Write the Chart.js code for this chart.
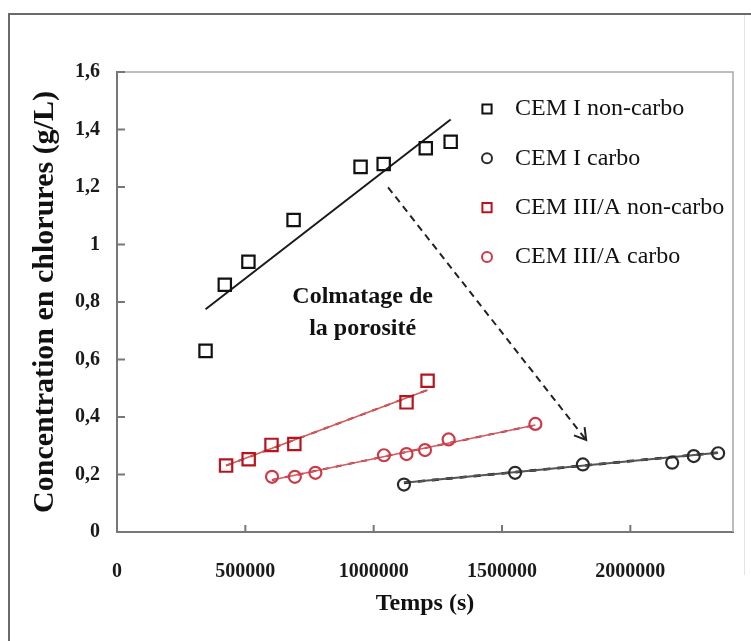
<!DOCTYPE html>
<html>
<head>
<meta charset="utf-8">
<script src="https://cdn.jsdelivr.net/npm/chart.js@4"></script>
<style>
    body { margin: 0; background: #fff; }
    .wrap { position: relative; width: 751px; height: 641px; overflow: hidden; }
    .frame { position: absolute; left: 8px; top: 13px; width: 780px; height: 700px;
             border-top: 2px solid #6a6a6a; border-left: 2px solid #6a6a6a; }
    .frame-r { position: absolute; left: 744px; top: 15px; height: 560px; border-left: 1px solid #e4e4e4; }
    canvas { position: absolute; left: 0; top: 0; }
</style>
</head>
<body>
<div class="wrap">
    <div class="frame"></div>
    <div class="frame-r"></div>
    <canvas id="chlorChart" width="751" height="641"></canvas>
</div>
<script>
// measured points (time in s, concentration in g/L)
const cemINcTime = [345000, 420000, 512000, 688000, 949000, 1039000, 1203000, 1300000];
const cemINcConc = [0.63, 0.86, 0.94, 1.085, 1.27, 1.28, 1.335, 1.357];
const cemICTime = [1118000, 1551000, 1815000, 2163000, 2247000, 2342000];
const cemICConc = [0.165, 0.206, 0.235, 0.241, 0.264, 0.274];
const cemIIINcTime = [425000, 513000, 602000, 691000, 1128000, 1210000];
const cemIIINcConc = [0.231, 0.253, 0.303, 0.306, 0.451, 0.526];
const cemIIICTime = [604000, 693000, 773000, 1040000, 1128000, 1200000, 1292000, 1630000];
const cemIIICConc = [0.192, 0.192, 0.206, 0.267, 0.271, 0.285, 0.322, 0.376];

// trend lines (start / end)
const cemINcTrendTime = [345000, 1300000];
const cemINcTrendConc = [0.775, 1.435];
const cemICTrendTime = [1118000, 2342000];
const cemICTrendConc = [0.171, 0.276];
const cemIIINcTrendTime = [425000, 1210000];
const cemIIINcTrendConc = [0.231, 0.494];
const cemIIICTrendTime = [604000, 1630000];
const cemIIICTrendConc = [0.181, 0.372];

// dashed arrow "colmatage"
const arrowTime = [1056000, 1828000];
const arrowConc = [1.199, 0.32];

const xTickValues = [0, 500000, 1000000, 1500000, 2000000];
const yTickValues = [0, 0.2, 0.4, 0.6, 0.8, 1, 1.2, 1.4, 1.6];

const noteLines = ['Colmatage de', 'la porosité'];
const noteTime = 957000;
const noteConc = [0.817, 0.708];

const serif = '"Liberation Serif", "DejaVu Serif", serif';

function pts(xs, ys) {
    return xs.map((x, i) => ({ x: x, y: ys[i] }));
}

function markers(label, xs, ys, color, style, radius) {
    return {
        label: label,
        data: pts(xs, ys),
        pointStyle: style,
        radius: radius,
        borderColor: color,
        backgroundColor: 'rgba(0,0,0,0)',
        borderWidth: 2.2,
        showLine: false,
        order: 0
    };
}

function trend(xs, ys, color, width, dash) {
    return {
        data: pts(xs, ys),
        showLine: true,
        borderColor: color,
        borderWidth: width,
        borderDash: dash || [],
        pointRadius: 0,
        order: 1
    };
}

const legendIndex = [0, 1, 2, 3];
const arrowIndex = 11;

const extras = {
    id: 'extras',
    beforeDatasetsDraw(chart) {
        const { ctx, chartArea: a, scales: { x, y } } = chart;
        ctx.save();
        ctx.strokeStyle = '#a8a8a8';
        ctx.lineWidth = 1.5;
        ctx.beginPath();
        ctx.moveTo(a.left, a.top);
        ctx.lineTo(a.right, a.top);
        ctx.lineTo(a.right, a.bottom);
        ctx.stroke();

        // inside tick marks
        ctx.strokeStyle = '#777';
        ctx.lineWidth = 2;
        x.ticks.forEach(t => {
            if (t.value === 0) return;
            const px = x.getPixelForValue(t.value);
            ctx.beginPath();
            ctx.moveTo(px, a.bottom);
            ctx.lineTo(px, a.bottom - 7);
            ctx.stroke();
        });
        y.ticks.forEach(t => {
            if (t.value === 0) return;
            const py = y.getPixelForValue(t.value);
            ctx.beginPath();
            ctx.moveTo(a.left, py);
            ctx.lineTo(a.left + 8, py);
            ctx.stroke();
        });
        ctx.restore();
    },
    afterDatasetsDraw(chart) {
        const { ctx, chartArea: a, scales: { x, y } } = chart;
        ctx.save();

        // arrow head
        const meta = chart.getDatasetMeta(arrowIndex);
        const p0 = meta.data[0], p1 = meta.data[1];
        const ang = Math.atan2(p1.y - p0.y, p1.x - p0.x);
        ctx.strokeStyle = '#222';
        ctx.lineWidth = 2;
        ctx.beginPath();
        ctx.moveTo(p1.x + 13 * Math.cos(ang + 2.6), p1.y + 13 * Math.sin(ang + 2.6));
        ctx.lineTo(p1.x, p1.y);
        ctx.lineTo(p1.x + 13 * Math.cos(ang - 2.6), p1.y + 13 * Math.sin(ang - 2.6));
        ctx.stroke();

        // note
        ctx.fillStyle = '#111';
        ctx.font = 'bold 24px ' + serif;
        ctx.textAlign = 'center';
        ctx.textBaseline = 'middle';
        noteLines.forEach((t, i) => {
            ctx.fillText(t, x.getPixelForValue(noteTime), y.getPixelForValue(noteConc[i]));
        });

        // legend
        ctx.textAlign = 'left';
        ctx.font = '24px ' + serif;
        legendIndex.forEach((idx, i) => {
            const ds = chart.data.datasets[idx];
            const ly = a.top + 37 + i * 49.3;
            ctx.strokeStyle = ds.borderColor;
            ctx.fillStyle = 'rgba(0,0,0,0)';
            ctx.lineWidth = 2;
            Chart.helpers.drawPoint(ctx, {
                pointStyle: ds.pointStyle,
                radius: ds.pointStyle === 'rect' ? 6.5 : 5,
                borderWidth: 2,
                rotation: 0
            }, a.left + 370, ly);
            ctx.fillStyle = '#111';
            ctx.fillText(ds.label, a.left + 398, ly);
        });
        ctx.restore();
    }
};

new Chart(document.getElementById('chlorChart'), {
    type: 'scatter',
    data: {
        datasets: [
            markers('CEM I non-carbo', cemINcTime, cemINcConc, '#111111', 'rect', 8.7),
            markers('CEM I carbo', cemICTime, cemICConc, '#2a2a2a', 'circle', 6),
            markers('CEM III/A non-carbo', cemIIINcTime, cemIIINcConc, '#b8141e', 'rect', 8.7),
            markers('CEM III/A carbo', cemIIICTime, cemIIICConc, '#cc3a48', 'circle', 6),
            trend(cemINcTrendTime, cemINcTrendConc, '#1a1a1a', 2),
            trend(cemICTrendTime, cemICTrendConc, '#555', 2),
            trend(cemICTrendTime, cemICTrendConc, '#000', 2.6, [7, 7]),
            trend(cemIIINcTrendTime, cemIIINcTrendConc, '#d65a5a', 1.6),
            trend(cemIIINcTrendTime, cemIIINcTrendConc, '#8c1a1a', 2, [6, 7]),
            trend(cemIIICTrendTime, cemIIICTrendConc, '#d65a62', 1.6),
            trend(cemIIICTrendTime, cemIIICTrendConc, '#8c1a22', 2, [6, 7]),
            trend(arrowTime, arrowConc, '#222', 2, [7, 5])
        ]
    },
    options: {
        responsive: false,
        animation: false,
        layout: { padding: { top: 72, right: 18, left: 0, bottom: 0 } },
        plugins: {
            legend: { display: false },
            tooltip: { enabled: false }
        },
        scales: {
            x: {
                type: 'linear',
                min: 0,
                max: 2400000,
                afterBuildTicks: scale => { scale.ticks = xTickValues.map(v => ({ value: v })); },
                afterFit: scale => { scale.height = 109; },
                grid: { display: false, drawTicks: false },
                border: { color: '#777', width: 2 },
                ticks: {
                    padding: 28,
                    color: '#1a1a1a',
                    font: { family: serif, size: 20, weight: 'bold' },
                    callback: v => String(v)
                },
                title: {
                    display: true,
                    text: 'Temps (s)',
                    color: '#111',
                    font: { family: serif, size: 24, weight: 'bold' },
                    padding: { top: 0, bottom: 23 }
                }
            },
            y: {
                min: 0,
                max: 1.6,
                afterBuildTicks: scale => { scale.ticks = yTickValues.map(v => ({ value: v })); },
                afterFit: scale => { scale.width = 117; },
                grid: { display: false, drawTicks: false },
                border: { color: '#777', width: 2 },
                ticks: {
                    padding: 17,
                    color: '#1a1a1a',
                    font: { family: serif, size: 20, weight: 'bold' },
                    callback: v => String(Number(v.toFixed(1))).replace('.', ',')
                },
                title: {
                    display: true,
                    text: 'Concentration en chlorures (g/L)',
                    color: '#111',
                    font: { family: serif, size: 30, weight: 'bold' },
                    padding: { top: 27, bottom: 0 }
                }
            }
        }
    },
    plugins: [extras]
});
</script>
</body>
</html>
